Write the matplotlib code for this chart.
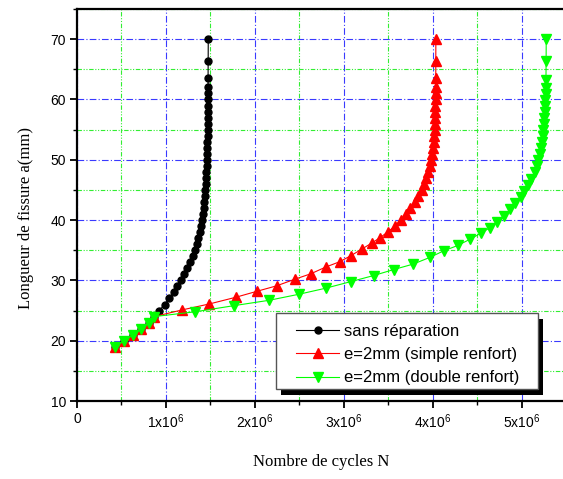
import matplotlib
matplotlib.use("Agg")
import matplotlib.pyplot as plt
from matplotlib.patches import Rectangle
from matplotlib.ticker import MultipleLocator, FixedLocator, FixedFormatter

plt.rcParams['font.family'] = ['Liberation Sans', 'DejaVu Sans']
plt.rcParams['mathtext.fontset'] = 'custom'
plt.rcParams['mathtext.rm'] = 'Liberation Sans'

# partie commune (avant réparation)
a_commun = [19, 20, 21, 22, 23, 24]
N_commun = [0.43e6, 0.53e6, 0.635e6, 0.725e6, 0.805e6, 0.87e6]

# sans réparation
a_sans = a_commun + [25, 26, 27, 28, 29, 30, 31, 32, 33, 34, 35, 36, 37, 38, 39, 40,
                     41, 42, 43, 44, 45, 46, 47, 48, 49, 50, 51, 52, 53, 54, 55, 56,
                     57, 58, 59, 60, 61, 62, 63.6, 66.4, 70]
N_sans = N_commun + [0.925e6, 0.985e6, 1.04e6, 1.09e6, 1.13e6, 1.165e6, 1.205e6, 1.24e6,
                     1.27e6, 1.30e6, 1.325e6, 1.345e6, 1.362e6, 1.378e6, 1.392e6, 1.405e6,
                     1.415e6, 1.423e6, 1.43e6, 1.436e6, 1.442e6, 1.447e6, 1.451e6, 1.455e6,
                     1.458e6, 1.461e6, 1.463e6, 1.465e6, 1.467e6, 1.468e6, 1.469e6, 1.470e6,
                     1.471e6, 1.472e6, 1.472e6, 1.473e6, 1.473e6, 1.474e6, 1.474e6, 1.475e6,
                     1.476e6]

# e=2mm simple renfort
a_simple = a_commun + [25.1, 26.1, 27.2, 28.2, 29.1, 30.2, 31.1, 32.2, 33.1, 34.1, 35.2, 36.2,
                       37.1, 38.1, 39, 40, 41, 42, 43, 44, 45, 46, 47, 48, 49, 50, 51, 52,
                       53, 54, 55, 56, 57, 58, 59, 60, 61, 62, 63.5, 66.3, 70]
N_simple = N_commun + [1.18e6, 1.49e6, 1.785e6, 2.025e6, 2.245e6, 2.45e6, 2.63e6, 2.795e6,
                       2.955e6, 3.08e6, 3.205e6, 3.315e6, 3.41e6, 3.50e6, 3.575e6, 3.64e6,
                       3.70e6, 3.75e6, 3.80e6, 3.84e6, 3.875e6, 3.905e6, 3.93e6, 3.95e6,
                       3.97e6, 3.985e6, 3.995e6, 4.005e6, 4.012e6, 4.018e6, 4.022e6, 4.025e6,
                       4.028e6, 4.03e6, 4.031e6, 4.032e6, 4.033e6, 4.034e6, 4.035e6, 4.035e6,
                       4.036e6]

# e=2mm double renfort
a_double = a_commun + [24.8, 25.8, 26.7, 27.7, 28.7, 29.8, 30.8, 31.8, 32.7, 33.8, 34.9, 35.8,
                       36.8, 37.8, 38.7, 39.7, 40.7, 41.8, 42.8, 43.9, 44.9, 45.8, 46.8, 47.9,
                       48.9, 49.9, 50.9, 51.9, 52.9, 53.9, 54.9, 55.9, 56.9, 57.9, 58.9, 59.9,
                       60.9, 61.9, 63.2, 66.3, 70]
N_double = N_commun + [1.33e6, 1.76e6, 2.16e6, 2.495e6, 2.795e6, 3.08e6, 3.335e6, 3.562e6,
                       3.78e6, 3.966e6, 4.124e6, 4.284e6, 4.416e6, 4.54e6, 4.64e6, 4.727e6,
                       4.80e6, 4.873e6, 4.93e6, 4.99e6, 5.03e6, 5.07e6, 5.11e6, 5.146e6,
                       5.17e6, 5.19e6, 5.205e6, 5.218e6, 5.228e6, 5.237e6, 5.244e6, 5.25e6,
                       5.255e6, 5.259e6, 5.263e6, 5.266e6, 5.269e6, 5.271e6, 5.274e6, 5.276e6,
                       5.277e6]

xticks = [0, 1e6, 2e6, 3e6, 4e6, 5e6]
xticklabels = ['0', r'$\mathregular{1x10^6}$', r'$\mathregular{2x10^6}$',
               r'$\mathregular{3x10^6}$', r'$\mathregular{4x10^6}$', r'$\mathregular{5x10^6}$']

fig = plt.figure(figsize=(5.63, 4.79), dpi=100)
ax = fig.add_axes([0.1368, 0.1628, 0.8686, 0.8184])

ax.plot(N_sans, a_sans, '-o', color='black', lw=0.8, ms=5, mec='black',
        label='sans réparation')
ax.plot(N_simple, a_simple, '-^', color='red', lw=0.8, ms=6.5, mec='red',
        label='e=2mm (simple renfort)')
ax.plot(N_double, a_double, '-v', color='#00ff00', lw=0.8, ms=6.5, mec='#00ff00',
        label='e=2mm (double renfort)')

ax.set_xlim(0, 5.5e6)
ax.set_ylim(10, 75)
ax.xaxis.set_major_locator(FixedLocator(xticks))
ax.xaxis.set_major_formatter(FixedFormatter(xticklabels))
ax.xaxis.set_minor_locator(MultipleLocator(0.5e6))
ax.yaxis.set_major_locator(MultipleLocator(10))
ax.yaxis.set_minor_locator(MultipleLocator(5))

ax.set_axisbelow(True)
ax.grid(which='major', color='#3a3aff', linestyle=(0, (6, 2, 1, 2)), lw=0.8)
ax.grid(which='minor', color='#33ee33', linestyle=(0, (4, 1.5, 1, 1.5, 1, 1.5)), lw=0.8)

ax.tick_params(which='major', direction='out', length=5, width=1.3, labelsize=10, pad=3)
ax.tick_params(which='minor', direction='out', length=3, width=1.0)
ax.tick_params(top=False, right=False)
for s in ['left', 'bottom', 'top']:
    ax.spines[s].set_linewidth(1.6)
ax.spines['right'].set_visible(False)

ax.set_xlabel('Nombre de cycles N', family='Liberation Serif', fontsize=12)
ax.set_ylabel('Longueur de fissure a(mm)', family='Liberation Serif', fontsize=12)
ax.xaxis.set_label_coords(0.5, -0.135)
ax.yaxis.set_label_coords(-0.088, 0.468)

# cadre de légende dessiné à la main, avec ombre noire
box_x0, box_y0, box_x1, box_y1 = 0.407, 0.0306, 0.943, 0.2245
inv = ax.transAxes.inverted()
dx, dy = inv.transform((5, 0))[0] - inv.transform((0, 0))[0], \
    inv.transform((0, 6))[1] - inv.transform((0, 0))[1]
ax.add_patch(Rectangle((box_x0 + dx, box_y0 - dy), box_x1 - box_x0, box_y1 - box_y0,
                       transform=ax.transAxes, facecolor='black', edgecolor='none',
                       zorder=4.7, clip_on=False))
ax.add_patch(Rectangle((box_x0, box_y0), box_x1 - box_x0, box_y1 - box_y0,
                       transform=ax.transAxes, facecolor='white', edgecolor='#555555',
                       lw=1.0, zorder=4.8, clip_on=False))

leg = ax.legend(loc='upper left', bbox_to_anchor=(0.448, 0.197), borderaxespad=0,
                fontsize=12, numpoints=1, handlelength=2.6, handletextpad=0.3,
                labelspacing=0.5, borderpad=0, frameon=False)

fig.savefig('out.png', dpi=100)
